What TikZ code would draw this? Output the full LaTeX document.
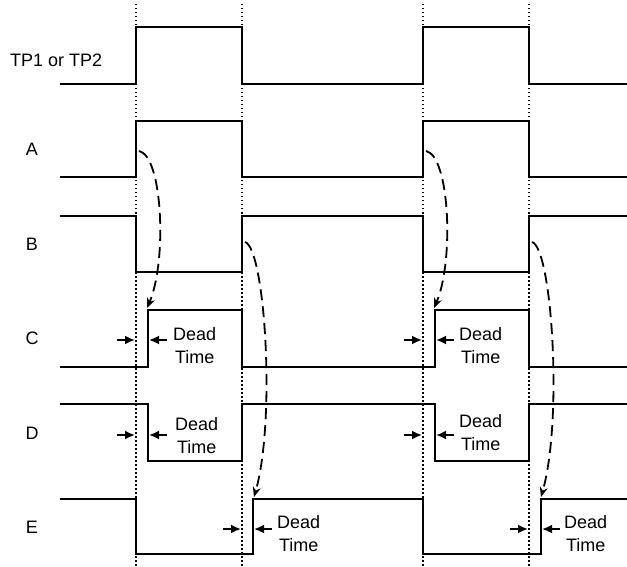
\documentclass[tikz,border=0pt]{standalone}
\usepackage{fontspec}
\setmainfont{Liberation Sans}
\usetikzlibrary{arrows.meta}
\begin{document}
\begin{tikzpicture}[x=1pt,y=-1pt,
  sig/.style={line width=2pt,line join=miter},
  guide/.style={line width=1.5pt,dash pattern=on 1.5pt off 2.5pt},
  causal/.style={line width=1.8pt,dash pattern=on 11pt off 6pt,-{Stealth[length=10pt,width=8pt]}},
  dtarrow/.style={line width=1.8pt,-{Latex[length=10pt,width=9pt]}},
  lbl/.style={inner sep=0pt,font=\fontsize{18}{23}\selectfont},
  dt/.style={lbl,align=center,anchor=west}]
\useasboundingbox (0,0) rectangle (627,567);
% guide lines
\foreach \x/\n in {136/g1,242/g2,423/g3,529/g4}{
  \coordinate (\n t) at (\x,4);
  \coordinate (\n b) at (\x,567);
  \draw[guide] (\n t) -- (\n b);
}
% signals
\draw[sig] (60,84) -- (136,84) -- (136,27) -- (242,27) -- (242,84) -- (423,84) -- (423,27) -- (529,27) -- (529,84) -- (627,84);
\draw[sig] (60,177) -- (136,177) -- (136,121) -- (242,121) -- (242,177) -- (423,177) -- (423,121) -- (529,121) -- (529,177) -- (627,177);
\draw[sig] (60,216) -- (136,216) -- (136,272) -- (242,272) -- (242,216) -- (423,216) -- (423,272) -- (529,272) -- (529,216) -- (627,216);
\draw[sig] (60,367) -- (148,367) -- (148,310) -- (242,310) -- (242,367) -- (435,367) -- (435,310) -- (529,310) -- (529,367) -- (627,367);
\draw[sig] (60,404) -- (148,404) -- (148,461) -- (242,461) -- (242,404) -- (435,404) -- (435,461) -- (529,461) -- (529,404) -- (627,404);
\draw[sig] (60,499) -- (136,499) -- (136,554) -- (253,554) -- (253,499) -- (423,499) -- (423,554) -- (541,554) -- (541,499) -- (627,499);
% labels
\node[lbl,anchor=west] (tp) at (10,60) {TP1 or TP2};
\node[lbl] (la) at (32,149) {A};
\node[lbl] (lb) at (32,244) {B};
\node[lbl] (lc) at (32,338) {C};
\node[lbl] (ld) at (32,433) {D};
\node[lbl] (le) at (32,527) {E};
% causal curves
\coordinate (a1) at (139,151); \coordinate (c1) at (147,308);
\coordinate (b1) at (245,242); \coordinate (e1) at (254,497);
\coordinate (a2) at (426,151); \coordinate (c2) at (434,308);
\coordinate (b2) at (532,242); \coordinate (e2) at (541,497);
\draw[causal] (a1) .. controls (163,156) and (167,262) .. (c1);
\draw[causal] (b1) .. controls (265,248) and (276,420) .. (e1);
\draw[causal] (a2) .. controls (450,156) and (454,262) .. (c2);
\draw[causal] (b2) .. controls (552,248) and (563,420) .. (e2);
% dead time marks
\foreach \n/\gx/\ex/\y/\tx/\ty in {
  dc1/136/148/340/173/346,
  dd1/136/148/435/175/436,
  de1/242/253/529/277/534,
  dc2/423/435/340/459/346,
  dd2/423/435/435/459/433,
  de2/529/541/529/564/534}{
  \coordinate (\n la) at ({\gx-19},\y);
  \coordinate (\n lb) at ({\gx-1},\y);
  \coordinate (\n ra) at ({\ex+19},\y);
  \coordinate (\n rb) at ({\ex+1},\y);
  \draw[dtarrow] (\n la) -- (\n lb);
  \draw[dtarrow] (\n ra) -- (\n rb);
  \node[dt] (\n t) at (\tx,\ty) {Dead\\Time};
}
\end{tikzpicture}
\end{document}
